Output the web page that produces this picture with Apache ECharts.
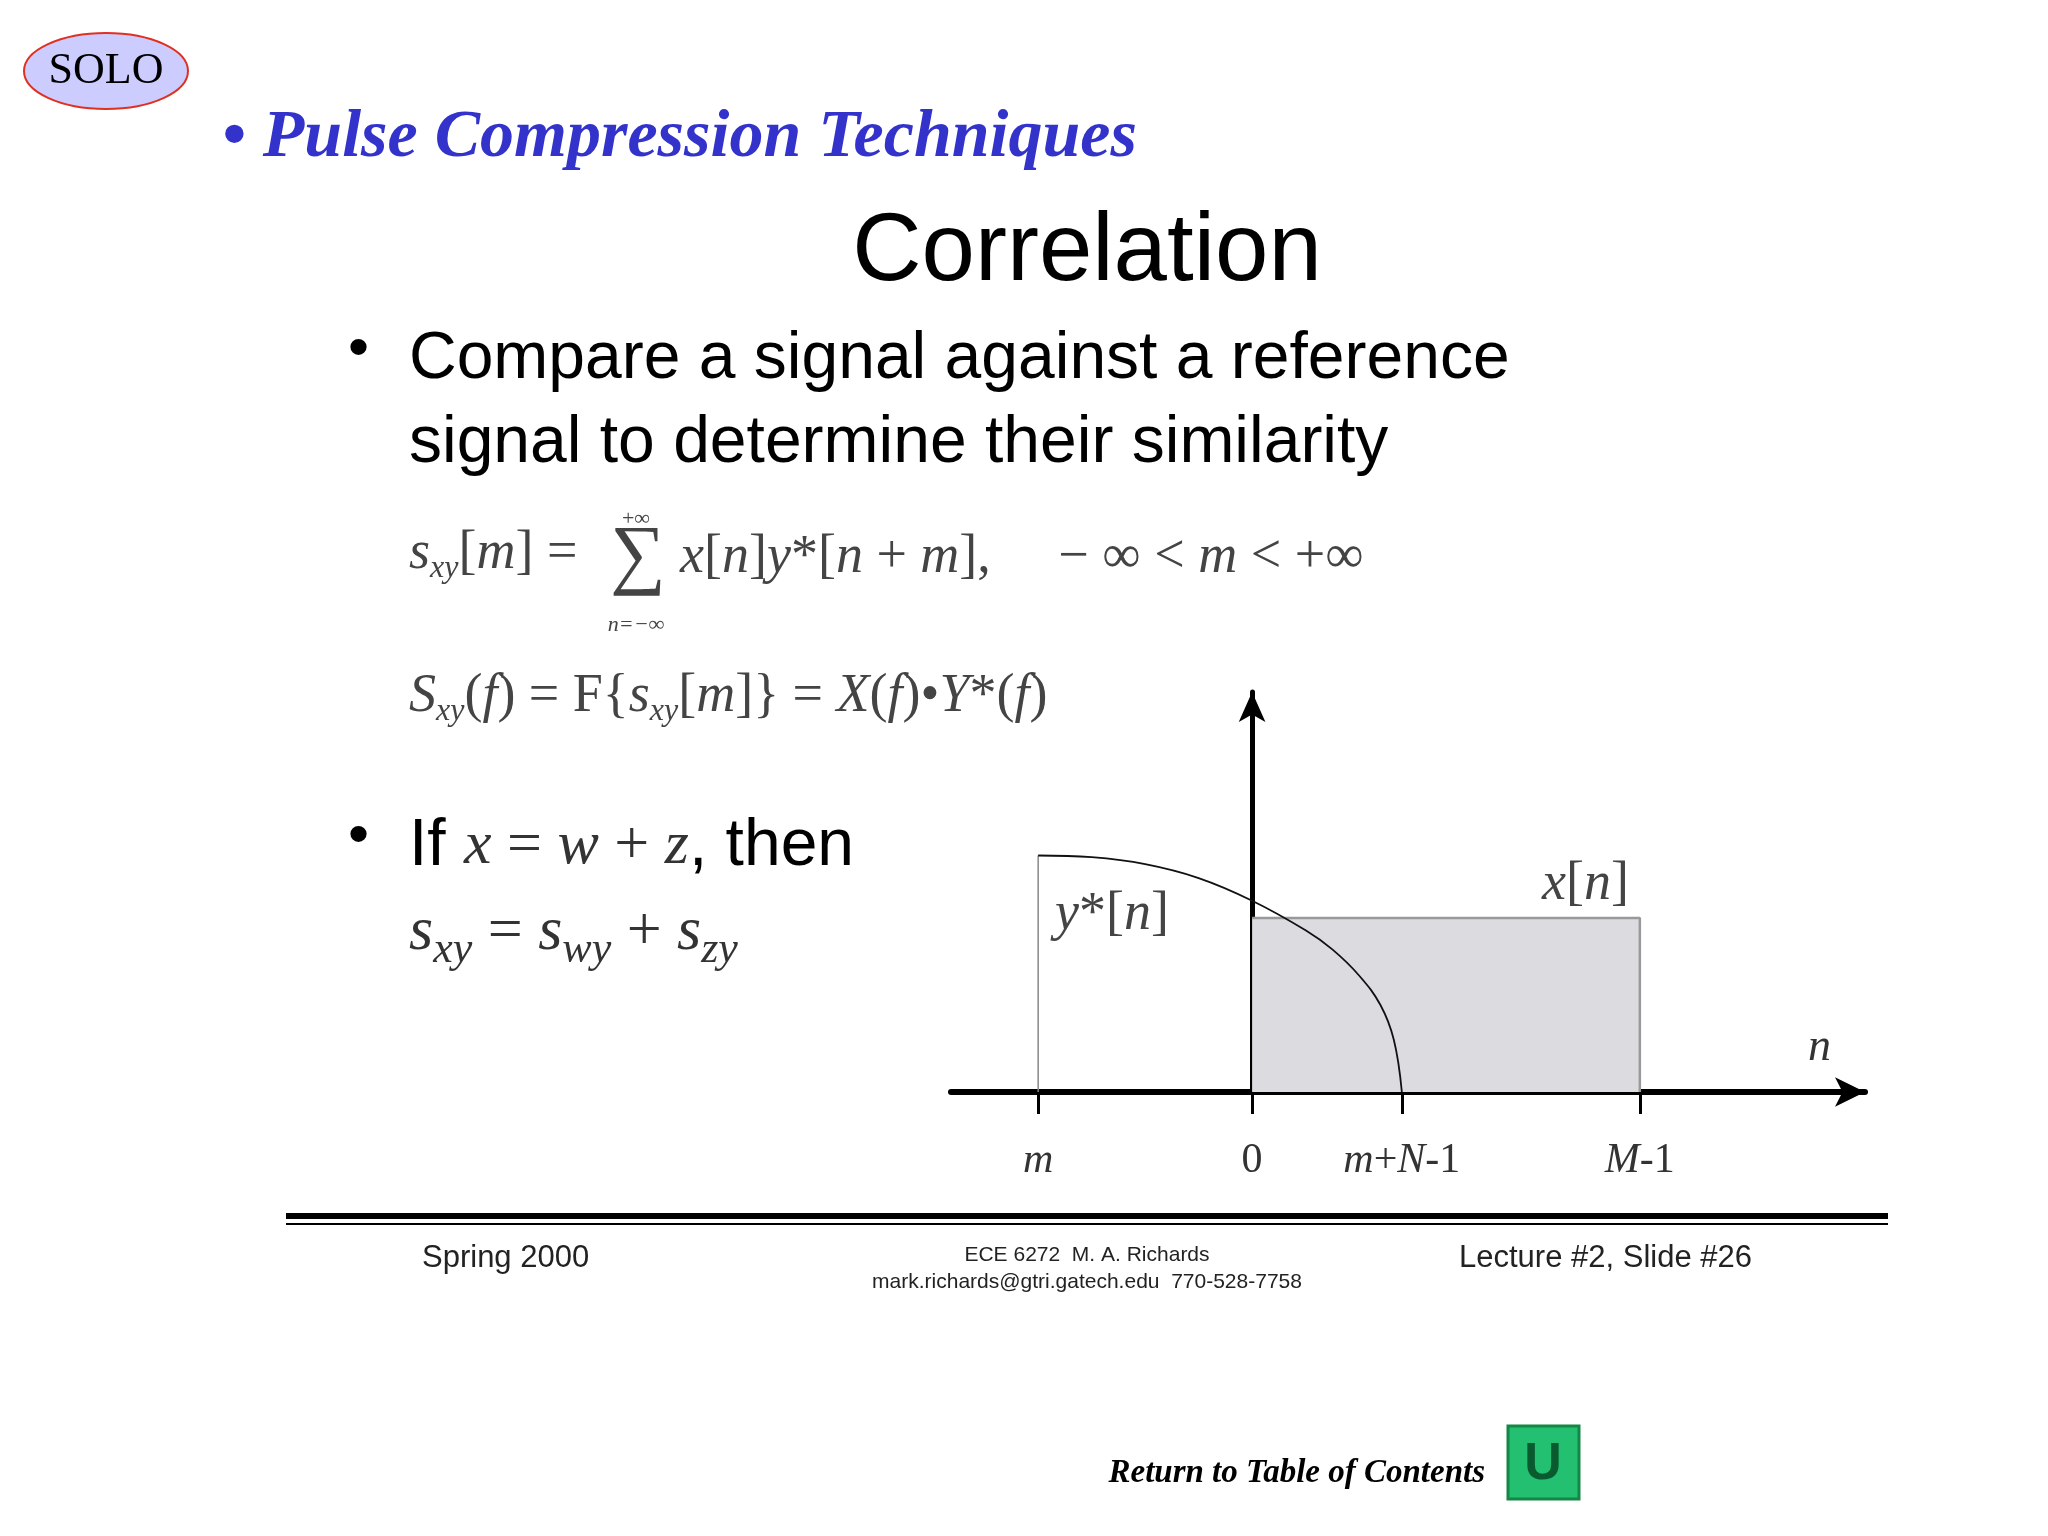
<!DOCTYPE html>
<html>
<head>
<meta charset="utf-8">
<script src="https://cdn.jsdelivr.net/npm/echarts@6/dist/echarts.min.js"></script>
<style>html,body{margin:0;padding:0;background:#fff}#main{width:2048px;height:1536px}</style>
</head>
<body>
<div id="main"></div>
<script>
// tick positions on the n axis (abstract units)
const tickValues = [-4, 0, 2.8, 7.25]
const tickLabels = ['{i|m}', '{r|0}', '{i|m}{r|+}{i|N}{r|-1}', '{i|M}{r|-1}']

// x[n] rectangle
const xRect = [[0, 1], [7.25, 1], [7.25, 0]]
// y*[n]: left edge then falling curve
const yLeft = [[-4, 0], [-4, 1.36]]
const yCurve = [[-4, 1.36], [-3, 1.35], [-2, 1.31], [-1, 1.23], [0, 1.1], [1, 0.93], [1.5, 0.82], [2, 0.67], [2.4, 0.5], [2.65, 0.3], [2.8, 0]]

const myChart = echarts.init(document.getElementById('main'))
const serif = '"Liberation Serif", "DejaVu Serif", serif'
const sans = '"Liberation Sans", Arial, sans-serif'
const mathRich = {
  i: { fontFamily: serif, fontStyle: 'italic', fontSize: 54, fill: '#444' },
  r: { fontFamily: serif, fontSize: 54, fill: '#444' },
  s: { fontFamily: serif, fontStyle: 'italic', fontSize: 32, fill: '#444', padding: [30, 0, 0, 0] },
  t: { fontFamily: serif, fontSize: 24, fill: '#444' }
}

const option = {
  backgroundColor: '#fff',
  animation: false,
  grid: { left: 951, width: 914, top: 692, height: 400 },
  xAxis: {
    type: 'value', min: -5.63, max: 11.46,
    splitLine: { show: false },
    axisLine: { onZero: true, lineStyle: { color: '#000', width: 6 }, symbol: ['none', 'arrow'], symbolSize: [22, 30] },
    axisTick: { show: true, customValues: tickValues, length: 22, lineStyle: { color: '#000', width: 3 } },
    axisLabel: {
      customValues: tickValues, margin: 48,
      formatter: v => tickLabels[tickValues.indexOf(v)],
      rich: {
        i: { fontFamily: serif, fontStyle: 'italic', fontSize: 42, color: '#333' },
        r: { fontFamily: serif, fontSize: 42, color: '#333' }
      }
    }
  },
  yAxis: {
    type: 'value', min: 0, max: 2.3,
    splitLine: { show: false },
    axisLine: { show: true, onZero: true, lineStyle: { color: '#000', width: 5 }, symbol: ['none', 'arrow'], symbolSize: [20, 30] },
    axisTick: { show: false },
    axisLabel: { show: false }
  },
  series: [
    { type: 'line', data: xRect, symbol: 'none', lineStyle: { color: '#999', width: 2.5 }, areaStyle: { color: '#dcdce0', opacity: 1 }, z: 1 },
    { type: 'line', data: yLeft, symbol: 'none', lineStyle: { color: '#888', width: 1.5 }, z: 2 },
    { type: 'line', data: yCurve, symbol: 'none', smooth: 0.4, lineStyle: { color: '#111', width: 1.8 }, z: 3 }
  ],
  graphic: [
    { type: 'ellipse', shape: { cx: 106, cy: 71, rx: 82, ry: 38 }, style: { fill: '#ccccff', stroke: '#e03020', lineWidth: 2 } },
    { type: 'text', x: 106, y: 71, style: { text: 'SOLO', font: '44px ' + serif, fill: '#000', align: 'center', verticalAlign: 'middle' } },
    { type: 'text', x: 222, y: 172, style: { text: '• Pulse Compression Techniques', font: 'italic bold 68px ' + serif, fill: '#3333cc', verticalAlign: 'bottom' } },
    { type: 'text', x: 1087, y: 302, style: { text: 'Correlation', font: '96px ' + sans, fill: '#000', align: 'center', verticalAlign: 'bottom' } },
    { type: 'text', x: 348, y: 380, style: { text: '•', font: '60px ' + sans, fill: '#000', verticalAlign: 'bottom' } },
    { type: 'text', x: 409, y: 393, style: { text: 'Compare a signal against a reference', font: '66px ' + sans, fill: '#000', verticalAlign: 'bottom' } },
    { type: 'text', x: 409, y: 477, style: { text: 'signal to determine their similarity', font: '66px ' + sans, fill: '#000', verticalAlign: 'bottom' } },
    { type: 'text', x: 409, y: 585, style: { text: '{i|s}{s|xy}{r|[}{i|m}{r|] = }', rich: mathRich, verticalAlign: 'bottom' } },
    { type: 'text', x: 610, y: 598, style: { text: '∑', font: '78px ' + serif, fill: '#444', verticalAlign: 'bottom' } },
    { type: 'text', x: 636, y: 530, style: { text: '+∞', font: '22px ' + serif, fill: '#444', align: 'center', verticalAlign: 'bottom' } },
    { type: 'text', x: 636, y: 636, style: { text: 'n=−∞', font: 'italic 22px ' + serif, fill: '#444', align: 'center', verticalAlign: 'bottom' } },
    { type: 'text', x: 680, y: 585, style: { text: '{i|x}{r|[}{i|n}{r|]}{i|y}{r|*[}{i|n}{r| + }{i|m}{r|],     − ∞ < }{i|m}{r| < +∞}', rich: mathRich, verticalAlign: 'bottom' } },
    { type: 'text', x: 409, y: 728, style: { text: '{i|S}{s|xy}{r|(}{i|f}{r|) = F{}{i|s}{s|xy}{r|[}{i|m}{r|]}}{r| = }{i|X}{r|(}{i|f}{r|)•}{i|Y}{r|*(}{i|f}{r|)}', font: '54px ' + serif, fill: '#444', rich: mathRich, verticalAlign: 'bottom' } },
    { type: 'text', x: 348, y: 867, style: { text: '•', font: '60px ' + sans, fill: '#000', verticalAlign: 'bottom' } },
    { type: 'text', x: 409, y: 880, style: { text: '{a|If }{b|x}{c| = }{b|w}{c| + }{b|z}{a|, then}', rich: {
      a: { fontFamily: sans, fontSize: 66, fill: '#000' },
      b: { fontFamily: serif, fontStyle: 'italic', fontSize: 62, fill: '#333' },
      c: { fontFamily: serif, fontSize: 62, fill: '#333' } }, verticalAlign: 'bottom' } },
    { type: 'text', x: 409, y: 972, style: { text: '{i|s}{s|xy}{r| = }{i|s}{s|wy}{r| + }{i|s}{s|zy}', rich: {
      i: { fontFamily: serif, fontStyle: 'italic', fontSize: 62, fill: '#333' },
      r: { fontFamily: serif, fontSize: 62, fill: '#333' },
      s: { fontFamily: serif, fontStyle: 'italic', fontSize: 44, fill: '#333', padding: [34, 0, 0, 0] } }, verticalAlign: 'bottom' } },
    { type: 'text', x: 1055, y: 915, style: { text: '{i|y}{r|*[}{i|n}{r|]}', rich: mathRich, verticalAlign: 'middle' } },
    { type: 'text', x: 1542, y: 885, style: { text: '{i|x}{r|[}{i|n}{r|]}', rich: mathRich, verticalAlign: 'middle' } },
    { type: 'text', x: 1808, y: 1048, style: { text: 'n', font: 'italic 46px ' + serif, fill: '#333', verticalAlign: 'middle' } },
    { type: 'rect', shape: { x: 286, y: 1213, width: 1602, height: 6 }, style: { fill: '#000' } },
    { type: 'rect', shape: { x: 286, y: 1223, width: 1602, height: 2 }, style: { fill: '#000' } },
    { type: 'text', x: 422, y: 1274, style: { text: 'Spring 2000', font: '31px ' + sans, fill: '#222', verticalAlign: 'bottom' } },
    { type: 'text', x: 1087, y: 1266, style: { text: 'ECE 6272  M. A. Richards', font: '21px ' + sans, fill: '#222', align: 'center', verticalAlign: 'bottom' } },
    { type: 'text', x: 1087, y: 1293, style: { text: 'mark.richards@gtri.gatech.edu  770-528-7758', font: '21px ' + sans, fill: '#222', align: 'center', verticalAlign: 'bottom' } },
    { type: 'text', x: 1459, y: 1274, style: { text: 'Lecture #2, Slide #26', font: '31px ' + sans, fill: '#222', verticalAlign: 'bottom' } },
    { type: 'text', x: 1485, y: 1490, style: { text: 'Return to Table of Contents', font: 'italic bold 33px ' + serif, fill: '#000', align: 'right', verticalAlign: 'bottom' } },
    { type: 'rect', shape: { x: 1508, y: 1426, width: 71, height: 73 }, style: { fill: '#22c070', stroke: '#118844', lineWidth: 3 } },
    { type: 'text', x: 1543, y: 1465, style: { text: 'U', font: 'bold 52px ' + sans, fill: '#0a5a30', align: 'center', verticalAlign: 'middle' } }
  ]
}

option && myChart.setOption(option)
</script>
</body>
</html>
